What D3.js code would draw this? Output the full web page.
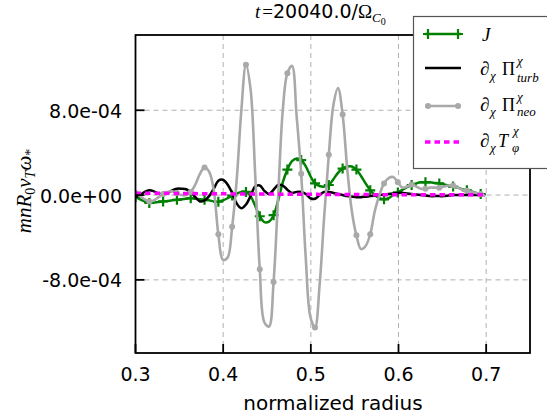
<!DOCTYPE html>
<html><head><meta charset="utf-8">
<script src="https://cdn.jsdelivr.net/npm/d3@7"></script>
<style>body{margin:0;background:#fff}</style></head>
<body><svg id="c" width="547" height="417"></svg>
<script>
// radius grid (normalized radius)
const radius = [0.3,0.30525,0.3105,0.31575,0.321,0.32625,0.3315,0.33675,0.342,0.34725,
0.3525,0.35775,0.363,0.36825,0.3735,0.37875,0.384,0.38925,0.3945,0.39975,
0.405,0.41025,0.4155,0.42075,0.426,0.43125,0.4365,0.44175,0.447,0.45225,
0.4575,0.46275,0.468,0.47325,0.4785,0.48375,0.489,0.49425,0.4995,0.50475,
0.51,0.51525,0.5205,0.52575,0.531,0.53625,0.5415,0.54675,0.552,0.55725,
0.5625,0.56775,0.573,0.57825,0.5835,0.58875,0.594,0.59925,0.6045,0.60975,
0.615,0.62025,0.6255,0.63075,0.636,0.64125,0.6465,0.65175,0.657,0.66225,
0.6675,0.67275,0.678,0.68325,0.6885,0.69375,0.699];
const unit = 1e-4; // values below are in units of 1e-4
const J = [-0.2,-0.4,-0.6,-0.75,-0.7,-0.65,-0.6,-0.55,-0.5,-0.45,
-0.4,-0.35,-0.3,-0.35,-0.4,-0.45,-0.5,-0.6,-0.63,-0.5,
-0.3,-0.05,0.15,0.3,0.3,-0.1,-1.0,-2.0,-2.55,-2.5,
-1.9,-0.5,1.2,2.4,3.2,3.45,3.3,2.7,1.8,1.1,
0.85,0.8,0.95,1.5,2.1,2.5,2.7,2.7,2.4,1.8,
1.1,0.45,0.0,-0.3,-0.4,-0.3,0.0,0.25,0.5,0.75,
0.95,1.1,1.2,1.2,1.2,1.15,1.1,1.0,0.9,0.8,
0.7,0.55,0.45,0.35,0.2,0.1,0.0];
const piTurb = [-0.2,0.0,0.3,0.45,0.35,0.15,0.1,0.2,0.45,0.6,
0.6,0.55,0.3,-0.2,-0.6,-0.5,-0.1,0.6,1.35,1.45,
1.0,0.2,-0.8,-1.25,-0.9,-0.1,0.8,0.9,0.4,0.1,
0.5,0.95,0.9,0.5,0.2,0.3,0.3,0.1,-0.3,-0.35,
0.0,0.3,0.3,0.2,0.1,0.0,-0.1,-0.15,-0.2,-0.2,
-0.15,-0.1,-0.05,0.0,0.05,0.1,0.15,0.2,0.2,0.15,
0.1,0.05,0.0,-0.05,-0.1,-0.1,-0.1,-0.1,-0.05,0.0,
0.0,0.0,0.0,0.0,0.0,0.0,0.0];
const piNeo = [0.2,-0.1,-0.4,-0.6,-0.5,-0.2,0.1,0.3,0.35,0.2,
0.0,0.0,0.3,1.0,2.0,2.6,2.2,0.5,-3.7,-6.1,
-5.9,-3.0,1.5,8.0,12.3,10.0,2.0,-7.0,-12.0,-12.4,
-8.2,0.0,8.0,11.5,12.2,7.5,2.0,-6.0,-11.5,-12.5,
-8.5,-2.0,3.8,8.5,10.1,7.6,2.5,-1.5,-3.8,-5.1,
-4.8,-3.7,-1.5,0.0,1.1,1.6,1.7,1.2,0.7,0.8,
1.0,0.8,0.6,0.6,0.7,0.7,0.7,0.8,0.9,0.9,
0.7,0.5,0.4,0.3,0.2,0.1,-0.1];
const tPhi = [0.18,0.18,0.17,0.17,0.17,0.16,0.16,0.16,0.15,0.15,
0.15,0.14,0.14,0.14,0.13,0.13,0.13,0.12,0.12,0.12,
0.11,0.11,0.11,0.1,0.1,0.1,0.1,0.09,0.09,0.09,
0.09,0.08,0.08,0.08,0.08,0.07,0.07,0.07,0.07,0.07,
0.06,0.06,0.06,0.06,0.06,0.05,0.05,0.05,0.05,0.05,
0.05,0.04,0.04,0.04,0.04,0.04,0.04,0.04,0.03,0.03,
0.03,0.03,0.03,0.03,0.03,0.03,0.03,0.02,0.02,0.02,
0.02,0.02,0.02,0.02,0.02,0.02,0.02];
const xTicks = [0.3,0.4,0.5,0.6,0.7];
const xTickLabels = ["0.3","0.4","0.5","0.6","0.7"];
const yTicks = [-8e-4,0,8e-4];
const yTickLabels = ["-8.0e-04","0.0e+00","8.0e-04"];

const svg = d3.select("#c");
const L=135.5, R=530, T=35, B=353;
const x = d3.scaleLinear().domain([0.3,0.75]).range([L,R]);
const y = d3.scaleLinear().domain([-1.49e-3,1.51e-3]).range([B,T]);
const sans = "DejaVu Sans, sans-serif";
const serif = "Liberation Serif, DejaVu Serif, serif";

svg.append("defs").append("clipPath").attr("id","clip")
  .append("rect").attr("x",L).attr("y",T).attr("width",R-L).attr("height",B-T);

// grid
const grid = svg.append("g").attr("stroke","#b0b0b0").attr("stroke-width",1).attr("stroke-dasharray","5,4");
grid.selectAll("line.v").data(xTicks.filter(d=>d>0.3)).join("line")
  .attr("x1",d=>x(d)).attr("x2",d=>x(d)).attr("y1",T).attr("y2",B);
grid.selectAll("line.h").data(yTicks).join("line")
  .attr("x1",L).attr("x2",R).attr("y1",d=>y(d)).attr("y2",d=>y(d));

const pts = arr => radius.map((r,i)=>[r, arr[i]*unit]);
const line = d3.line().x(d=>x(d[0])).y(d=>y(d[1])).curve(d3.curveCatmullRom.alpha(0.5));
const plot = svg.append("g").attr("clip-path","url(#clip)");

function plus(g, cx, cy, col){
  g.append("path").attr("d",`M${cx-5},${cy}H${cx+5}M${cx},${cy-5}V${cy+5}`)
   .attr("stroke",col).attr("stroke-width",2.2).attr("fill","none");
}

// J
const dJ = pts(J);
plot.append("path").attr("d",line(dJ)).attr("fill","none").attr("stroke","#008000").attr("stroke-width",2.5);
dJ.forEach((d,i)=>{ if(i%3===0) plus(plot, x(d[0]), y(d[1]), "#008000"); });
// turb
plot.append("path").attr("d",line(pts(piTurb))).attr("fill","none").attr("stroke","#000").attr("stroke-width",2.5);
// neo
const dN = pts(piNeo);
plot.append("path").attr("d",line(dN)).attr("fill","none").attr("stroke","#a9a9a9").attr("stroke-width",2.6);
plot.selectAll("circle.neo").data(dN.filter((d,i)=>i%3===0)).join("circle")
  .attr("cx",d=>x(d[0])).attr("cy",d=>y(d[1])).attr("r",3).attr("fill","#a9a9a9");
// T phi
plot.append("path").attr("d",line(pts(tPhi))).attr("fill","none").attr("stroke","#ff00ff")
  .attr("stroke-width",3.5).attr("stroke-dasharray","5.5,4");

// axes frame
svg.append("rect").attr("x",L).attr("y",T).attr("width",R-L).attr("height",B-T)
  .attr("fill","none").attr("stroke","#000").attr("stroke-width",1.8);
// ticks (inward)
svg.selectAll("line.xt").data(xTicks).join("line")
  .attr("x1",d=>x(d)).attr("x2",d=>x(d)).attr("y1",B).attr("y2",B-9).attr("stroke","#000").attr("stroke-width",1.8);
svg.selectAll("line.yt").data(yTicks).join("line")
  .attr("x1",L).attr("x2",L+9).attr("y1",d=>y(d)).attr("y2",d=>y(d)).attr("stroke","#000").attr("stroke-width",1.8);
svg.selectAll("text.xl").data(xTicks).join("text")
  .attr("x",d=>x(d)).attr("y",381).attr("text-anchor","middle")
  .attr("font-family",sans).attr("font-size",19).text((d,i)=>xTickLabels[i]);
svg.selectAll("text.yl").data(yTicks).join("text")
  .attr("x",122).attr("y",d=>y(d)+7.5).attr("text-anchor","end")
  .attr("font-family",sans).attr("font-size",19).text((d,i)=>yTickLabels[i]);
svg.append("text").attr("x",333).attr("y",410).attr("text-anchor","middle")
  .attr("font-family",sans).attr("font-size",20).text("normalized radius");

// y label
const yl = svg.append("text").attr("transform","translate(31,191) rotate(-90)")
  .attr("text-anchor","middle").attr("font-family",serif).attr("font-size",21).attr("font-style","italic");
yl.append("tspan").text("mnR");
yl.append("tspan").attr("font-size",14).attr("font-style","normal").attr("dy",4).text("0");
yl.append("tspan").attr("dy",-4).text("v");
yl.append("tspan").attr("font-size",14).attr("dy",4).text("T");
yl.append("tspan").attr("dy",-4).text("ω");
yl.append("tspan").attr("font-size",14).attr("font-style","normal").attr("dy",4).text("*");

// title
const tt = svg.append("text").attr("x",255).attr("y",18).attr("font-size",19);
tt.append("tspan").attr("font-family",serif).attr("font-style","italic").text("t");
tt.append("tspan").attr("font-family",serif).attr("dx",2).text("=");
tt.append("tspan").attr("font-family",sans).text("20040.0/");
tt.append("tspan").attr("font-family",serif).text("Ω");
tt.append("tspan").attr("font-family",serif).attr("font-style","italic").attr("font-size",13).attr("dy",4).text("C");
tt.append("tspan").attr("font-family",serif).attr("font-size",10).attr("dy",3).text("0");

// legend
const lg = svg.append("g");
lg.append("rect").attr("x",413.5).attr("y",16.5).attr("width",150).attr("height",152)
  .attr("fill","#fff").attr("stroke","#555").attr("stroke-width",1.2);
const lx0=425, lx1=461;
// row J
lg.append("line").attr("x1",lx0).attr("x2",lx1).attr("y1",34).attr("y2",34).attr("stroke","#008000").attr("stroke-width",2.5);
plus(lg, 428, 34, "#008000"); plus(lg, 458, 34, "#008000");
lg.append("text").attr("x",482).attr("y",41).attr("font-family",serif).attr("font-style","italic").attr("font-size",19).text("J");
// row turb
lg.append("line").attr("x1",lx0).attr("x2",lx1).attr("y1",68).attr("y2",68).attr("stroke","#000").attr("stroke-width",2.5);
// row neo
lg.append("line").attr("x1",lx0).attr("x2",lx1).attr("y1",106).attr("y2",106).attr("stroke","#a9a9a9").attr("stroke-width",2.6);
lg.append("circle").attr("cx",428).attr("cy",106).attr("r",3).attr("fill","#a9a9a9");
lg.append("circle").attr("cx",458).attr("cy",106).attr("r",3).attr("fill","#a9a9a9");
// row T
lg.append("line").attr("x1",lx0).attr("x2",lx1).attr("y1",142).attr("y2",142).attr("stroke","#ff00ff")
  .attr("stroke-width",3.5).attr("stroke-dasharray","5.5,4");

function mtext(xx, yy, txt, size, italic){
  lg.append("text").attr("x",xx).attr("y",yy).attr("font-family",serif).attr("font-size",size)
    .attr("font-style",italic?"italic":"normal").text(txt);
}
// row 2
mtext(480,75,"∂",19,false); mtext(490,80,"χ",13,true); mtext(502,75,"Π",18,false);
mtext(517,65,"χ",13,true); mtext(517,82,"turb",13,true);
// row 3
mtext(480,111,"∂",19,false); mtext(490,116,"χ",13,true); mtext(502,111,"Π",18,false);
mtext(517,101,"χ",13,true); mtext(517,116,"neo",13,true);
// row 4
mtext(480,147,"∂",19,false); mtext(490,152,"χ",13,true); mtext(498,147,"T",18,true);
mtext(513,135,"χ",13,true); mtext(512,152,"φ",13,true);
</script></body></html>
